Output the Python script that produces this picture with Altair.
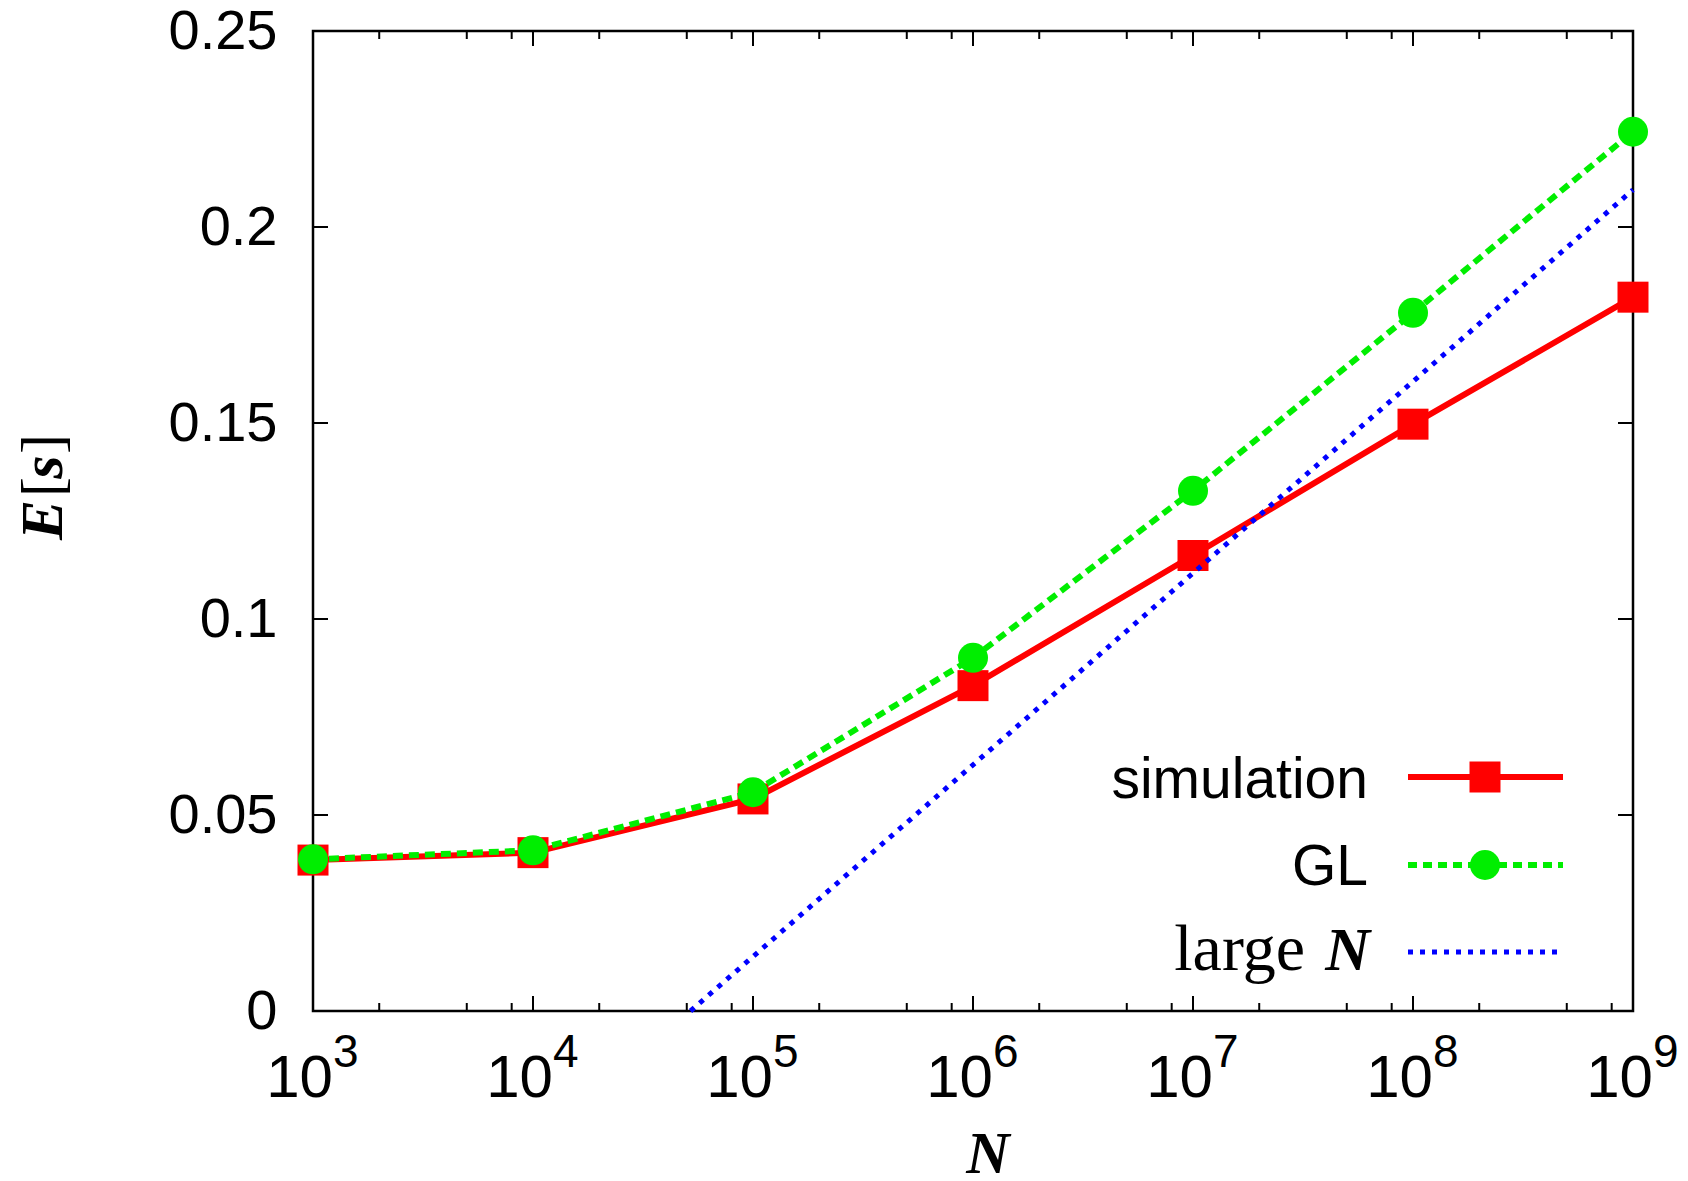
import altair as alt
import pandas as pd

# ---- data ----
N_vals = [1e3, 1e4, 1e5, 1e6, 1e7, 1e8, 1e9]
sim_vals = [0.0385, 0.0404, 0.0541, 0.0830, 0.1162, 0.1497, 0.1821]
gl_vals = [0.0387, 0.0410, 0.0558, 0.0901, 0.1327, 0.1781, 0.2243]
largeN_N = [5.2e4, 1e9]
largeN_E = [0.0, 0.2095]

x_major = [1e3, 1e4, 1e5, 1e6, 1e7, 1e8, 1e9]
x_exp = ["3", "4", "5", "6", "7", "8", "9"]
x_minor = [m * 10 ** k for k in range(3, 9) for m in (2, 5, 8)]
y_ticks = [0.0, 0.05, 0.10, 0.15, 0.20, 0.25]
legend_labels = ["simulation", "GL", "large", "N"]
ytitle_parts = ["E", "[", "s", "]"]

W, H = 1320, 980
SANS = "Liberation Sans"
SERIF = "Liberation Serif"

sim_df = pd.DataFrame({"N": N_vals, "E": sim_vals})
gl_df = pd.DataFrame({"N": N_vals, "E": gl_vals})
ln_df = pd.DataFrame({"N": largeN_N, "E": largeN_E})
xmaj_df = pd.DataFrame({"N": x_major, "base": ["10"] * len(x_major), "exp": x_exp})
xmin_df = pd.DataFrame({"N": x_minor})
y_df = pd.DataFrame({"E": y_ticks})

xscale = alt.Scale(type="log", domain=[1e3, 1e9], nice=False)
yscale = alt.Scale(domain=[0, 0.25], nice=False, zero=False)
yaxis = alt.Axis(values=y_ticks, format="~g", labelFont=SANS, labelFontSize=56,
                 labelColor="black", ticks=False, tickSize=0, domain=False,
                 grid=False, labelPadding=36, title=None)

X = alt.X("N:Q", scale=xscale, axis=None)
Y = alt.Y("E:Q", scale=yscale, axis=yaxis)

RED = "#ff0000"
GREEN = "#00ee00"
BLUE = "#0000ff"

sim_line = alt.Chart(sim_df).mark_line(color=RED, strokeWidth=6).encode(x=X, y=Y)
sim_pts = alt.Chart(sim_df).mark_point(shape="square", filled=True, size=961, color=RED,
                                       opacity=1, strokeWidth=0).encode(x=X, y=Y)
gl_line = alt.Chart(gl_df).mark_line(color=GREEN, strokeWidth=6, strokeDash=[10, 6]).encode(x=X, y=Y)
gl_pts = alt.Chart(gl_df).mark_point(shape="circle", filled=True, size=900, color=GREEN,
                                     opacity=1, strokeWidth=0).encode(x=X, y=Y)
ln_line = alt.Chart(ln_df).mark_line(color=BLUE, strokeWidth=5, strokeDash=[5, 7]).encode(x=X, y=Y)

# inward ticks on all four sides
tk = dict(color="black", strokeWidth=2)
xb_major = alt.Chart(xmaj_df).mark_rule(**tk).encode(x=X, y=alt.value(H), y2=alt.value(H - 15))
xt_major = alt.Chart(xmaj_df).mark_rule(**tk).encode(x=X, y=alt.value(0), y2=alt.value(15))
xb_minor = alt.Chart(xmin_df).mark_rule(**tk).encode(x=X, y=alt.value(H), y2=alt.value(H - 8))
xt_minor = alt.Chart(xmin_df).mark_rule(**tk).encode(x=X, y=alt.value(0), y2=alt.value(8))
yl_ticks = alt.Chart(y_df).mark_rule(**tk).encode(y=Y, x=alt.value(0), x2=alt.value(15))
yr_ticks = alt.Chart(y_df).mark_rule(**tk).encode(y=Y, x=alt.value(W), x2=alt.value(W - 15))

# x tick labels 10^k
xlab_base = alt.Chart(xmaj_df).mark_text(font=SANS, fontSize=60, align="right", baseline="alphabetic",
                                         dx=20, color="black").encode(x=X, y=alt.value(H + 86), text="base:N")
xlab_exp = alt.Chart(xmaj_df).mark_text(font=SANS, fontSize=46, align="left", baseline="alphabetic",
                                        dx=20, color="black").encode(x=X, y=alt.value(H + 56), text="exp:N")

# axis titles
def one(label):
    return pd.DataFrame({"t": [label]})

xtitle = alt.Chart(one("N")).mark_text(
    font=SERIF, fontSize=60, fontStyle="italic", fontWeight="bold", align="center",
    baseline="alphabetic", color="black").encode(x=alt.value(675), y=alt.value(H + 162), text="t:N")

def ypart(label, ycenter, bold):
    kw = dict(fontStyle="italic", fontWeight="bold") if bold else {}
    return alt.Chart(one(label)).mark_text(
        font=SERIF, fontSize=60, align="center", baseline="alphabetic", angle=270,
        color="black", **kw).encode(x=alt.value(-251), y=alt.value(ycenter), text="t:N")

yt_E = ypart(ytitle_parts[0], 489, True)
yt_lb = ypart(ytitle_parts[1], 456, False)
yt_s = ypart(ytitle_parts[2], 436, True)
yt_rb = ypart(ytitle_parts[3], 413, False)

# legend
leg_sim_txt = alt.Chart(one(legend_labels[0])).mark_text(
    font=SANS, fontSize=57, align="right", baseline="alphabetic", color="black").encode(
    x=alt.value(1055), y=alt.value(767), text="t:N")
leg_sim_line = alt.Chart(one(legend_labels[0])).mark_rule(color=RED, strokeWidth=6).encode(
    x=alt.value(1095), x2=alt.value(1250), y=alt.value(746))
leg_sim_pt = alt.Chart(one(legend_labels[0])).mark_point(
    shape="square", filled=True, size=961, color=RED, opacity=1, strokeWidth=0).encode(
    x=alt.value(1172), y=alt.value(746))

leg_gl_txt = alt.Chart(one(legend_labels[1])).mark_text(
    font=SANS, fontSize=57, align="right", baseline="alphabetic", color="black").encode(
    x=alt.value(1055), y=alt.value(854), text="t:N")
leg_gl_line = alt.Chart(one(legend_labels[1])).mark_rule(color=GREEN, strokeWidth=6, strokeDash=[9, 6]).encode(
    x=alt.value(1095), x2=alt.value(1250), y=alt.value(834))
leg_gl_pt = alt.Chart(one(legend_labels[1])).mark_point(
    shape="circle", filled=True, size=900, color=GREEN, opacity=1, strokeWidth=0).encode(
    x=alt.value(1172), y=alt.value(834))

leg_ln_txt1 = alt.Chart(one(legend_labels[2])).mark_text(
    font=SERIF, fontSize=66, align="right", baseline="alphabetic", color="black").encode(
    x=alt.value(992), y=alt.value(939), text="t:N")
leg_ln_txt2 = alt.Chart(one(legend_labels[3])).mark_text(
    font=SERIF, fontSize=62, fontStyle="italic", fontWeight="bold", align="right",
    baseline="alphabetic", color="black").encode(x=alt.value(1057), y=alt.value(939), text="t:N")
leg_ln_line = alt.Chart(one(legend_labels[2])).mark_rule(color=BLUE, strokeWidth=5, strokeDash=[5, 7]).encode(
    x=alt.value(1095), x2=alt.value(1250), y=alt.value(921))

chart = alt.layer(
    sim_line, sim_pts, gl_line, gl_pts, ln_line,
    xb_major, xt_major, xb_minor, xt_minor, yl_ticks, yr_ticks,
    xlab_base, xlab_exp, xtitle, yt_E, yt_lb, yt_s, yt_rb,
    leg_sim_line, leg_sim_pt, leg_sim_txt,
    leg_gl_line, leg_gl_pt, leg_gl_txt,
    leg_ln_line, leg_ln_txt1, leg_ln_txt2,
).properties(
    width=W, height=H,
    autosize=alt.AutoSizeParams(type="none"),
    padding={"left": 313, "top": 31, "right": 55, "bottom": 170},
    background="white",
).configure_view(stroke="black", strokeWidth=2.5)

chart.save("out.html", embed_options={"renderer": "svg", "actions": False})
